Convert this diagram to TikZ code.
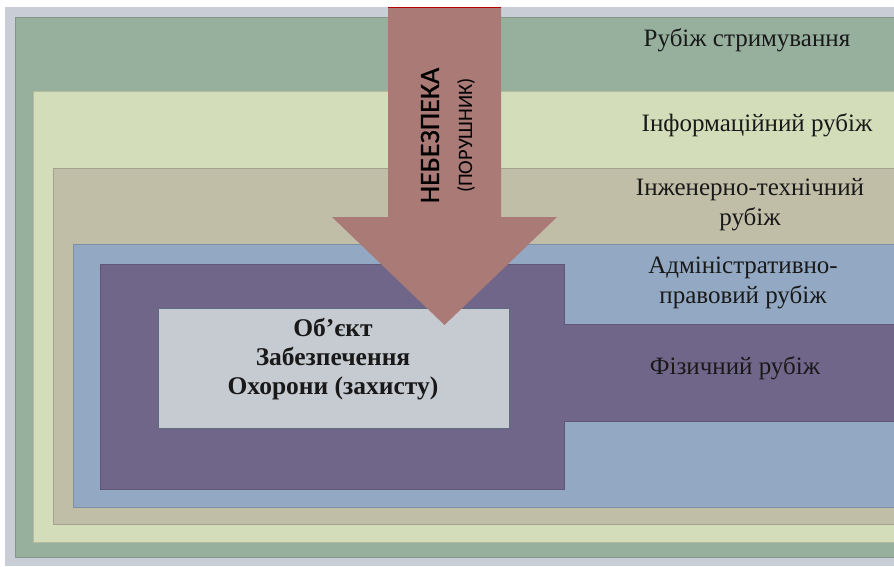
\documentclass[tikz,border=0pt]{standalone}
\usepackage{fontspec}
\setmainfont{Liberation Serif}
\newfontfamily\arrowfont{Carlito}
\newfontfamily\arrowfontb[FakeBold=0.8]{Carlito}
\definecolor{framec}{RGB}{201,206,214}
\definecolor{greenc}{RGB}{151,176,158}
\definecolor{yellowc}{RGB}{212,221,185}
\definecolor{tanc}{RGB}{193,190,168}
\definecolor{bluec}{RGB}{147,168,194}
\definecolor{purplec}{RGB}{112,102,138}
\definecolor{objc}{RGB}{198,202,209}
\definecolor{objb}{RGB}{95,107,126}
\definecolor{arrowc}{RGB}{170,122,118}
\definecolor{textc}{RGB}{25,25,25}
\begin{document}
\begin{tikzpicture}[x=1pt,y=-1pt,
  band/.style={line width=0.6pt},
  lbl/.style={text=textc,align=center,inner sep=0pt,font=\fontsize{25}{30}\selectfont},
  objtext/.style={text=textc,align=center,inner sep=0pt,font=\bfseries\fontsize{25.5}{29}\selectfont}]
\useasboundingbox (0,0) rectangle (894,566);
\fill[white] (0,0) rectangle (894,566);
\fill[framec] (5,7) rectangle (894,566);
% bands
\filldraw[band,fill=greenc,draw=greenc!85!black] (15,17) rectangle (896,557);
\filldraw[band,fill=yellowc,draw=yellowc!85!black] (33,91) rectangle (896,542);
\filldraw[band,fill=tanc,draw=tanc!85!black] (53,168) rectangle (896,524);
\filldraw[band,fill=bluec,draw=bluec!85!black] (73,244) rectangle (896,507);
\filldraw[band,fill=purplec,draw=purplec!85!black]
  (100,264) -- (564,264) -- (564,324) -- (896,324) -- (896,421) -- (564,421) -- (564,489) -- (100,489) -- cycle;
% object box
\filldraw[fill=objc,draw=objb,line width=0.8pt] (158,308) rectangle (509,428);
\node[objtext] (obj) at (333,359) {Об’єкт\\Забезпечення\\Охорони (захисту)};
% arrow
\fill[arrowc] (388,7) -- (501,7) -- (501,217) -- (557,217) -- (444.5,325) -- (332,217) -- (388,217) -- cycle;
\draw[red!70!black,line width=0.8pt] (388,7.4) -- (501,7.4);
\node[rotate=90,inner sep=0pt,text=black,font=\arrowfontb\fontsize{28}{30}\selectfont] (danger) at (430,135.5) {НЕБЕЗПЕКА};
\node[rotate=90,inner sep=0pt,text=black,font=\arrowfont\fontsize{20.5}{22}\selectfont] (intruder) at (466,135.5) {(ПОРУШНИК)};
% labels
\node[lbl] (l1) at (747,40) {Рубіж стримування};
\node[lbl] (l2) at (757,125) {Інформаційний рубіж};
\node[lbl] (l3) at (750,205) {Інженерно-технічний\\рубіж};
\node[lbl] (l4) at (743,283) {Адміністративно-\\правовий рубіж};
\node[lbl] (l5) at (735,368) {Фізичний рубіж};
\end{tikzpicture}
\end{document}
